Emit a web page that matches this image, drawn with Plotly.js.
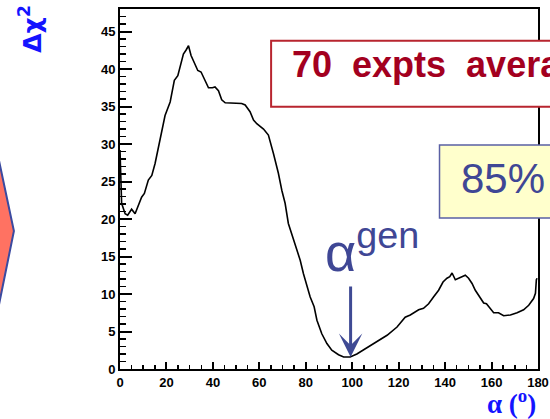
<!DOCTYPE html>
<html>
<head>
<meta charset="utf-8">
<script src="https://cdn.plot.ly/plotly-3.0.1.min.js"></script>
<style>html,body{margin:0;padding:0;background:#fff;overflow:hidden}#chart{width:550px;height:419px}</style>
</head>
<body>
<div id="chart"></div>
<script>
// Delta chi^2 vs alpha (degrees)
const alphaDeg = [0,0.7,2.2,3.3,5,6.5,9.3,10.5,12.2,13.7,15.1,16.5,18,19.4,21.6,23.4,24.9,27.3,28.4,29.5,30.6,32,33.5,34.9,36.3,38.1,39.8,40.9,42.4,43.8,45.3,46.7,49.6,52.4,53.9,56,57.5,58.9,61.8,63.9,66.1,68.2,69.7,71.1,72.5,74.7,76.2,77.6,79,81.9,83.6,84.8,86.9,89.1,91.2,94.1,96.3,99.1,102,106.3,110.6,115,119.3,122.8,125,127.2,128.6,130.7,132.9,135,137.2,139.1,140.8,142,143,144.4,146.6,148.7,150.1,151.6,153,155.2,156.6,157.8,159.2,160.9,163,165.2,168.1,171,173.8,176,178.1,178.9,179.3,179.6];
const deltaChi2 = [29.2,22.1,20.7,20.5,21.3,20.7,22.9,23.4,25.2,25.8,27.4,29.6,31.8,33.8,35.6,38.5,39.1,42.0,42.5,43.1,41.8,40.9,39.8,39.6,38.7,37.5,37.5,37.6,37.1,35.9,35.5,35.5,35.5,35.4,35.2,34.3,33.2,32.7,32.0,31.2,28.7,26.1,23.8,22.1,19.4,17.2,15.8,14.5,12.7,9.6,8.3,6.5,4.7,3.4,2.5,1.9,1.6,1.6,2.0,2.8,3.6,4.5,5.6,6.9,7.2,7.6,7.9,8.1,8.7,9.6,10.5,11.6,12.1,12.3,12.8,11.9,12.2,12.5,12.1,11.4,10.5,9.4,8.8,8.7,8.1,7.5,7.5,7.1,7.2,7.5,7.9,8.5,9.4,10.1,11.9,12.1];
const alphaGen = 99.3;
const alphaGenChi2 = 1.6;
const boxText1 = "70\u00a0 expts\u00a0 average";
const boxText2 = "85%";

const tickFont = {family: "Liberation Sans, Arial, sans-serif", size: 13, color: "#000", weight: "bold"};

const trace = {
  x: alphaDeg, y: deltaChi2, type: "scatter", mode: "lines",
  line: {color: "#000", width: 1.6}, hoverinfo: "skip", showlegend: false
};

const layout = {
  width: 550, height: 419,
  margin: {l: 120, r: 12, t: 9, b: 50, pad: 0},
  paper_bgcolor: "#fff", plot_bgcolor: "#fff",
  showlegend: false,
  xaxis: {
    range: [0, 180], dtick: 20, tick0: 0,
    ticks: "inside", ticklen: 7, tickwidth: 2, tickcolor: "#000",
    minor: {dtick: 5, tick0: 0, ticks: "inside", ticklen: 4, tickwidth: 1.5, tickcolor: "#000", showgrid: false},
    showline: true, linecolor: "#000", linewidth: 2, mirror: true,
    showgrid: false, zeroline: false, tickfont: tickFont, fixedrange: true
  },
  yaxis: {
    range: [0, 48], dtick: 5, tick0: 0,
    ticks: "inside", ticklen: 12, tickwidth: 2, tickcolor: "#000",
    minor: {dtick: 1, tick0: 0, ticks: "inside", ticklen: 6, tickwidth: 1.5, tickcolor: "#000", showgrid: false},
    showline: true, linecolor: "#000", linewidth: 2, mirror: true,
    showgrid: false, zeroline: false, tickfont: tickFont, fixedrange: true
  },
  shapes: [
    {type: "path", xref: "paper", yref: "paper",
     path: "M -0.311 0.697 L -0.2538 0.3833 L -0.311 0.0556 Z",
     fillcolor: "#ff7262", line: {color: "#3b4aa0", width: 2}, layer: "above"},
    {type: "rect", xref: "paper", yref: "paper",
     x0: 0.3615, x1: 1.2, y0: 0.7286, y1: 0.912,
     fillcolor: "#fff", line: {color: "#b8252f", width: 2}, layer: "above"},
    {type: "rect", xref: "paper", yref: "paper",
     x0: 0.7644, x1: 1.2, y0: 0.4194, y1: 0.6222,
     fillcolor: "#ffffcc", line: {color: "#5a60a4", width: 1.5}, layer: "above"}
  ],
  annotations: [
    {xref: "paper", yref: "paper", x: 0.407, y: 0.8453, xanchor: "left", yanchor: "middle",
     text: boxText1, showarrow: false,
     font: {family: "Liberation Sans, Arial, sans-serif", size: 36, color: "#a3001f", weight: "bold"}},
    {xref: "paper", yref: "paper", x: 0.81, y: 0.528, xanchor: "left", yanchor: "middle",
     text: boxText2, showarrow: false,
     font: {family: "Liberation Sans, Arial, sans-serif", size: 42, color: "#3f4795"}},
    {xref: "paper", yref: "paper", x: 0.485, y: 0.335, xanchor: "left", yanchor: "middle",
     text: "α<sup>gen</sup>", showarrow: false,
     font: {family: "Liberation Sans, Arial, sans-serif", size: 54, color: "#3f4795"}},
    {xref: "x", yref: "y", x: alphaGen, y: alphaGenChi2, ax: 0, ay: -72, axref: "pixel", ayref: "pixel",
     text: "", showarrow: true, arrowhead: 3, arrowsize: 1.3, arrowwidth: 3, arrowcolor: "#3f4a94", standoff: 0},
    {xref: "paper", yref: "paper", x: -0.213, y: 0.945, xanchor: "center", yanchor: "middle",
     text: "Δχ<sup>2</sup>", textangle: -90, showarrow: false,
     font: {family: "DejaVu Sans, sans-serif", size: 25, color: "#1414ff", weight: "bold"}},
    {xref: "paper", yref: "paper", x: 1.0, y: -0.093, xanchor: "right", yanchor: "middle",
     text: "α (<sup>o</sup>)", showarrow: false,
     font: {family: "Liberation Serif, Times New Roman, serif", size: 27, color: "#1414ff", weight: "bold"}}
  ]
};

Plotly.newPlot("chart", [trace], layout, {staticPlot: true, displayModeBar: false});
</script>
</body>
</html>
